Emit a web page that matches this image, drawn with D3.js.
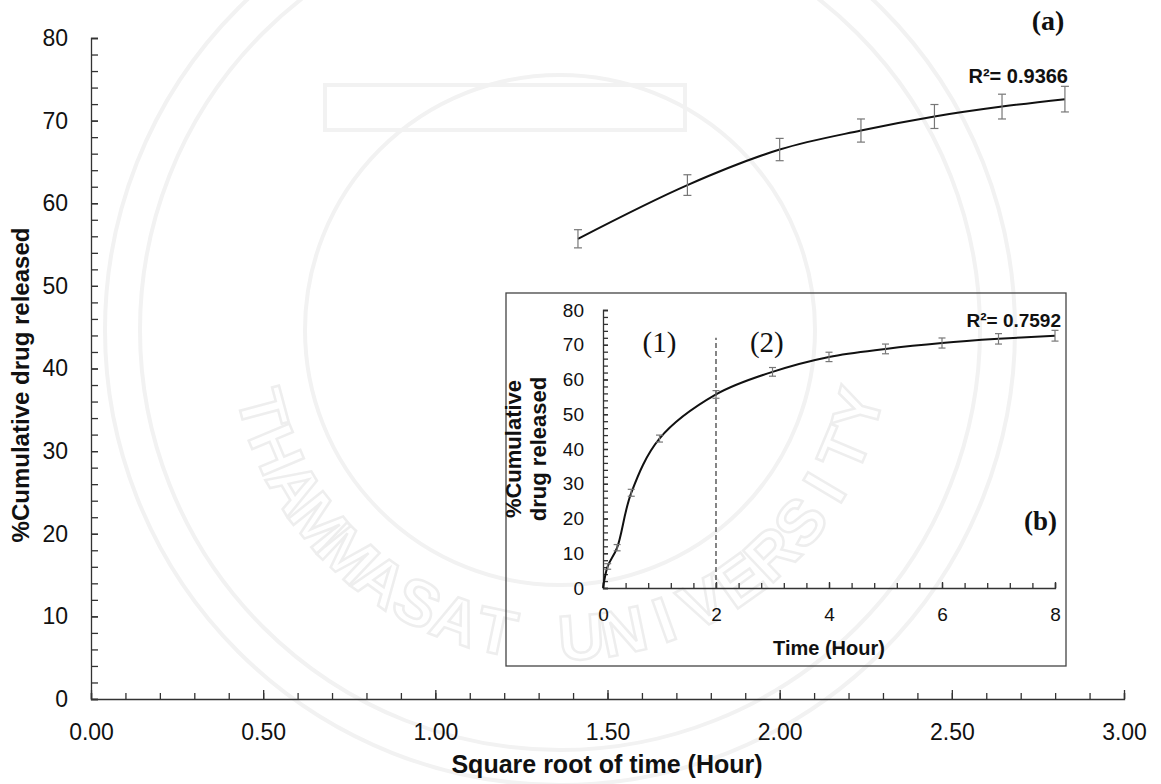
<!DOCTYPE html>
<html lang="en">
<head>
    <meta charset="utf-8">
    <title>Cumulative drug release</title>
    <style>
        body { margin: 0; background: #fff; }
        text { font-family: Arial, "Liberation Sans", sans-serif; fill: #111; }
        .serif { font-family: "Times New Roman", "Liberation Serif", serif; }
        .axis path, .axis line { stroke: #333; stroke-width: 1.3px; }
        .axis text { fill: #111; }
        .err { stroke: #777; stroke-width: 1.2px; }
        .fit { fill: none; stroke: #111; stroke-width: 2px; }
        .seal { fill: none; stroke: #f2f2f2; stroke-width: 4px; }
        .seal-letter { fill: none; stroke: #eeeeee; stroke-width: 2.5px; }
    </style>
    <!-- load the d3.js library -->
    <script src="https://d3js.org/d3.v7.min.js"></script>
</head>
<body>
<svg></svg>
<script>
    // sampling times (hour) and mean % cumulative release with SD
    var hours    = [0, 0.083, 0.25, 0.5, 1, 2, 3, 4, 5, 6, 7, 8];
    var released = [0, 6.2, 11.6, 27.4, 43.0, 55.7, 62.2, 66.5, 68.8, 70.5, 71.7, 72.6];
    var sdev     = [0, 0.8, 0.9, 1.0, 1.0, 1.1, 1.25, 1.35, 1.4, 1.45, 1.5, 1.55];

    // tick labels
    var mainXTicks  = [0, 0.5, 1, 1.5, 2, 2.5, 3];
    var mainYTicks  = [0, 10, 20, 30, 40, 50, 60, 70, 80];
    var insetXTicks = [0, 2, 4, 6, 8];
    var insetYTicks = [0, 10, 20, 30, 40, 50, 60, 70, 80];

    // fit results
    var mainR2  = "0.9366";
    var insetR2 = "0.7592";
    var phaseSplit = 2;   // hour where phase (1) ends

    var data = hours.map(function(h, i) {
        return {t: h, rt: Math.sqrt(h), v: released[i], sd: sdev[i]};
    });

    var svg = d3.select("svg")
        .attr("width", 1161)
        .attr("height", 784);

    // faint university seal in the background
    var seal = svg.append("g");
    var cx = 560, cy = 330;
    [455, 420, 255].forEach(function(r) {
        seal.append("circle").attr("class", "seal").attr("cx", cx).attr("cy", cy).attr("r", r);
    });
    seal.append("rect").attr("class", "seal")
        .attr("x", cx - 235).attr("y", 85).attr("width", 360).attr("height", 45);

    // seal lettering, one glyph at a time around the lower arc
    var sealWords = "THAMMASAT UNIVERSITY".split("");
    var sealR = 330, sealStep = 7.9;
    seal.selectAll(".seal-letter")
        .data(sealWords)
        .enter().append("text")
        .attr("class", "seal-letter")
        .attr("font-size", 64)
        .attr("font-weight", "bold")
        .attr("text-anchor", "middle")
        .attr("transform", function(d, i) {
            var a = (i - (sealWords.length - 1) / 2) * sealStep;
            var rad = a * Math.PI / 180;
            return "translate(" + (cx + sealR * Math.sin(rad)) + "," + (cy + sealR * Math.cos(rad)) +
                ") rotate(" + (-a) + ")";
        })
        .text(function(d) { return d; });

    // minor tick axes carry no labels
    function minorTicks(g) { g.selectAll("text").remove(); }
    function noDomain(g) { g.select(".domain").remove(); }

    // ---------------- main plot: release vs square root of time ----------------
    var x = d3.scaleLinear().domain([0, 3]).range([91, 1124]);
    var y = d3.scaleLinear().domain([0, 80]).range([699, 38]);

    var main = svg.append("g");

    main.append("g").attr("class", "axis")
        .attr("transform", "translate(0,699)")
        .call(d3.axisBottom(x).tickValues(d3.range(0, 3.0001, 0.1)).tickSize(-6))
        .call(minorTicks);
    main.append("g").attr("class", "axis")
        .attr("transform", "translate(0,699)")
        .call(d3.axisBottom(x).tickValues(mainXTicks).tickSize(-9).tickPadding(25)
            .tickFormat(d3.format(".2f")))
        .attr("font-size", 23).attr("font-family", null)
        .call(noDomain);

    main.append("g").attr("class", "axis")
        .attr("transform", "translate(91,0)")
        .call(d3.axisLeft(y).tickValues(d3.range(0, 80.001, 2)).tickSize(-7))
        .call(minorTicks);
    main.append("g").attr("class", "axis")
        .attr("transform", "translate(91,0)")
        .call(d3.axisLeft(y).tickValues(mainYTicks).tickSize(-7).tickPadding(23))
        .attr("font-size", 23).attr("font-family", null)
        .call(noDomain);

    main.append("text")
        .attr("x", 607).attr("y", 773)
        .attr("text-anchor", "middle")
        .attr("font-size", 25).attr("font-weight", "bold")
        .text("Square root of time (Hour)");
    main.append("text")
        .attr("transform", "translate(29,385) rotate(-90)")
        .attr("text-anchor", "middle")
        .attr("font-size", 24).attr("font-weight", "bold")
        .text("%Cumulative drug released");

    var late = data.filter(function(d) { return d.t >= phaseSplit; });

    main.append("path")
        .datum(late)
        .attr("class", "fit")
        .attr("d", d3.line()
            .x(function(d) { return x(d.rt); })
            .y(function(d) { return y(d.v); })
            .curve(d3.curveCatmullRom.alpha(0.5)));

    var mErr = main.selectAll(".merr").data(late).enter().append("g").attr("class", "err");
    mErr.append("line")
        .attr("x1", function(d) { return x(d.rt); }).attr("x2", function(d) { return x(d.rt); })
        .attr("y1", function(d) { return y(d.v - d.sd); }).attr("y2", function(d) { return y(d.v + d.sd); });
    mErr.append("line")
        .attr("x1", function(d) { return x(d.rt) - 4; }).attr("x2", function(d) { return x(d.rt) + 4; })
        .attr("y1", function(d) { return y(d.v + d.sd); }).attr("y2", function(d) { return y(d.v + d.sd); });
    mErr.append("line")
        .attr("x1", function(d) { return x(d.rt) - 4; }).attr("x2", function(d) { return x(d.rt) + 4; })
        .attr("y1", function(d) { return y(d.v - d.sd); }).attr("y2", function(d) { return y(d.v - d.sd); });

    main.append("text")
        .attr("x", 1068).attr("y", 83)
        .attr("text-anchor", "end")
        .attr("font-size", 20).attr("font-weight", "bold")
        .text("R\u00b2= " + mainR2);
    main.append("text")
        .attr("class", "serif")
        .attr("x", 1048).attr("y", 30)
        .attr("text-anchor", "middle")
        .attr("font-size", 28).attr("font-weight", "bold")
        .text("(a)");

    // ---------------- inset: release vs time ----------------
    var inset = svg.append("g");

    inset.append("rect")
        .attr("x", 506).attr("y", 293)
        .attr("width", 560).attr("height", 373)
        .attr("fill", "none")
        .attr("stroke", "#444").attr("stroke-width", 1.3);

    var ix = d3.scaleLinear().domain([0, 8]).range([603, 1055]);
    var iy = d3.scaleLinear().domain([0, 80]).range([588, 310]);

    inset.append("g").attr("class", "axis")
        .attr("transform", "translate(0,588)")
        .call(d3.axisBottom(ix).tickValues(d3.range(0, 8.001, 0.4)).tickSize(-5))
        .call(minorTicks);
    inset.append("g").attr("class", "axis")
        .attr("transform", "translate(0,588)")
        .call(d3.axisBottom(ix).tickValues(insetXTicks).tickSize(-6).tickPadding(20))
        .attr("font-size", 19).attr("font-family", null)
        .call(noDomain);

    inset.append("g").attr("class", "axis")
        .attr("transform", "translate(603,0)")
        .call(d3.axisLeft(iy).tickValues(d3.range(0, 80.001, 2)).tickSize(-5))
        .call(minorTicks);
    inset.append("g").attr("class", "axis")
        .attr("transform", "translate(603,0)")
        .call(d3.axisLeft(iy).tickValues(insetYTicks).tickSize(-5).tickPadding(19))
        .attr("font-size", 19).attr("font-family", null)
        .call(noDomain);

    inset.append("text")
        .attr("x", 829).attr("y", 655)
        .attr("text-anchor", "middle")
        .attr("font-size", 20).attr("font-weight", "bold")
        .text("Time (Hour)");
    inset.append("text")
        .attr("transform", "translate(521,449) rotate(-90)")
        .attr("text-anchor", "middle")
        .attr("font-size", 22).attr("font-weight", "bold")
        .text("%Cumulative");
    inset.append("text")
        .attr("transform", "translate(546,449) rotate(-90)")
        .attr("text-anchor", "middle")
        .attr("font-size", 22).attr("font-weight", "bold")
        .text("drug released");

    // boundary between the two release phases
    inset.append("line")
        .attr("x1", ix(phaseSplit)).attr("x2", ix(phaseSplit))
        .attr("y1", iy(0)).attr("y2", iy(72))
        .attr("stroke", "#444").attr("stroke-width", 1.3)
        .attr("stroke-dasharray", "5,3");

    inset.append("text").attr("class", "serif")
        .attr("x", ix(1)).attr("y", 352)
        .attr("text-anchor", "middle").attr("font-size", 29)
        .text("(1)");
    inset.append("text").attr("class", "serif")
        .attr("x", ix(2.9)).attr("y", 352)
        .attr("text-anchor", "middle").attr("font-size", 29)
        .text("(2)");

    inset.append("path")
        .datum(data)
        .attr("class", "fit")
        .attr("stroke-width", 1.8)
        .attr("d", d3.line()
            .x(function(d) { return ix(d.t); })
            .y(function(d) { return iy(d.v); })
            .curve(d3.curveCatmullRom.alpha(0.5)));

    var iErr = inset.selectAll(".ierr").data(data.filter(function(d) { return d.t > 0; }))
        .enter().append("g").attr("class", "err");
    iErr.append("line")
        .attr("x1", function(d) { return ix(d.t); }).attr("x2", function(d) { return ix(d.t); })
        .attr("y1", function(d) { return iy(d.v - d.sd); }).attr("y2", function(d) { return iy(d.v + d.sd); });
    iErr.append("line")
        .attr("x1", function(d) { return ix(d.t) - 3.5; }).attr("x2", function(d) { return ix(d.t) + 3.5; })
        .attr("y1", function(d) { return iy(d.v + d.sd); }).attr("y2", function(d) { return iy(d.v + d.sd); });
    iErr.append("line")
        .attr("x1", function(d) { return ix(d.t) - 3.5; }).attr("x2", function(d) { return ix(d.t) + 3.5; })
        .attr("y1", function(d) { return iy(d.v - d.sd); }).attr("y2", function(d) { return iy(d.v - d.sd); });

    inset.append("text")
        .attr("x", 1061).attr("y", 327)
        .attr("text-anchor", "end")
        .attr("font-size", 19).attr("font-weight", "bold")
        .text("R\u00b2= " + insetR2);
    inset.append("text")
        .attr("class", "serif")
        .attr("x", 1057).attr("y", 530)
        .attr("text-anchor", "end")
        .attr("font-size", 27).attr("font-weight", "bold")
        .text("(b)");
</script>
</body>
</html>
